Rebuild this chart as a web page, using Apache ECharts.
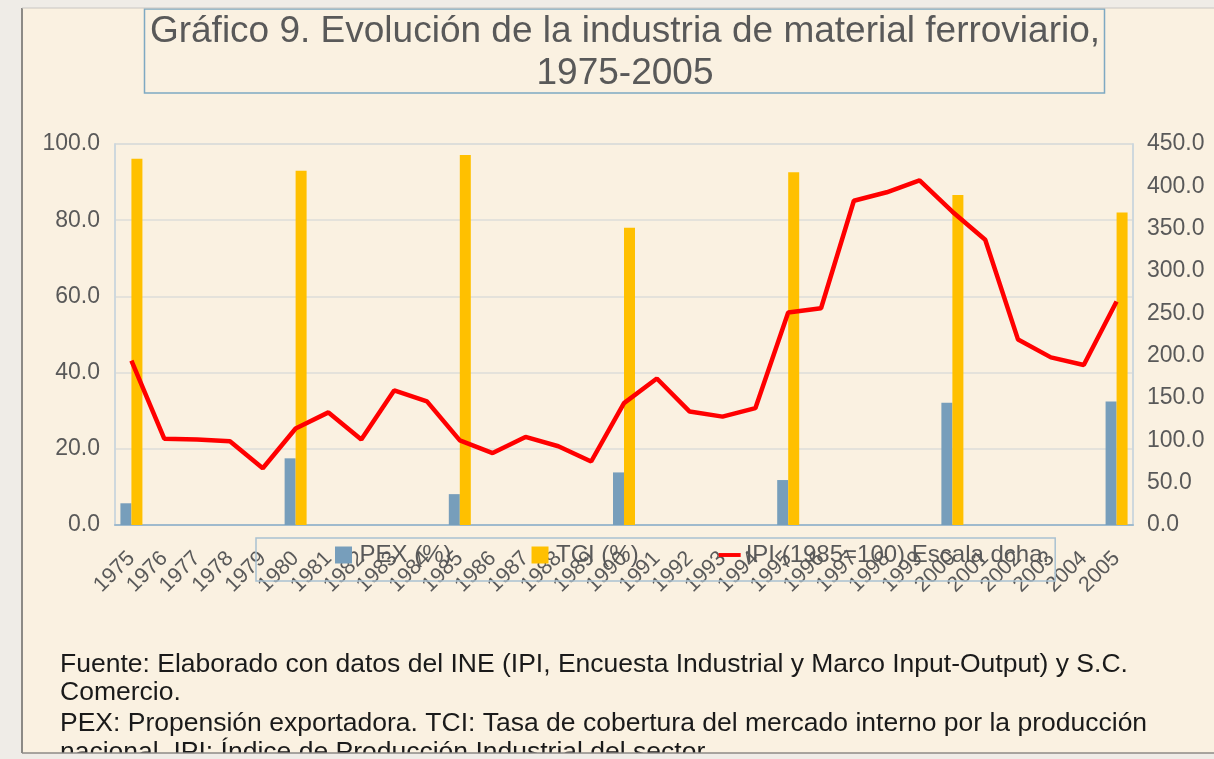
<!DOCTYPE html>
<html>
<head>
<meta charset="utf-8">
<style>
  html, body { margin: 0; padding: 0; background: #faf1e1; }
  #chart { width: 1214px; height: 759px; }
</style>
<script src="https://cdn.jsdelivr.net/npm/echarts@6/dist/echarts.min.js"></script>
</head>
<body>
<div id="chart"></div>
<script>
// años
var years = ['1975', '1976', '1977', '1978', '1979', '1980', '1981', '1982', '1983', '1984',
  '1985', '1986', '1987', '1988', '1989', '1990', '1991', '1992', '1993', '1994',
  '1995', '1996', '1997', '1998', '1999', '2000', '2001', '2002', '2003', '2004', '2005']

// PEX (%) - solo cada 5 años
var pex = [5.7, null, null, null, null, 17.5, null, null, null, null,
  8.1, null, null, null, null, 13.8, null, null, null, null,
  11.8, null, null, null, null, 32.1, null, null, null, null, 32.4]

// TCI (%)
var tci = [96.1, null, null, null, null, 93.0, null, null, null, null,
  97.1, null, null, null, null, 78.0, null, null, null, null,
  92.6, null, null, null, null, 86.6, null, null, null, null, 82.0]

// IPI (1985=100), escala derecha
var ipi = [194, 102, 101, 99, 67, 114, 133, 101, 159, 146,
  100, 85, 104, 93, 75, 144, 173, 134, 128, 138,
  251, 256, 383, 393, 407, 370, 337, 219, 198, 189, 264]

var leftTicks = [0, 20, 40, 60, 80, 100]
var rightTicks = [0, 50, 100, 150, 200, 250, 300, 350, 400, 450]

var FONT = '"Liberation Sans", Arial, sans-serif'
var GREY = '#595959'
var SQ = 'path://M0,0H10V10H0Z'
var BAR_LINE = 'path://M0,0H28V5H0Z'
var NOTE_FONT = '26.5px ' + FONT

var chart = echarts.init(document.getElementById('chart'))

chart.setOption({
  backgroundColor: '#faf1e1',
  textStyle: { fontFamily: FONT },
  animation: false,
  grid: {
    left: 115,
    right: 81,
    top: 144,
    bottom: 234,
    show: true,
    borderColor: '#d3dbe0',
    borderWidth: 1.5
  },
  legend: {
    left: 256,
    top: 538,
    padding: [5, 6, 14, 79],
    itemWidth: 22,
    itemHeight: 17,
    itemGap: 80,
    borderColor: '#a9c1d1',
    borderWidth: 1.5,
    textStyle: { fontSize: 24, color: GREY, fontFamily: FONT },
    data: [
      { name: 'PEX (%)', icon: SQ },
      { name: 'TCI (%)', icon: SQ },
      { name: 'IPI (1985=100) Escala dcha.', icon: BAR_LINE }
    ]
  },
  xAxis: {
    type: 'category',
    data: years,
    boundaryGap: true,
    axisLine: { lineStyle: { color: '#9fbacd', width: 2 } },
    axisTick: { show: false },
    axisLabel: {
      interval: 0,
      rotate: 45,
      margin: 30,
      fontSize: 21.5,
      color: GREY,
      fontFamily: FONT
    }
  },
  yAxis: [{
    type: 'value',
    min: leftTicks[0],
    max: leftTicks[leftTicks.length - 1],
    interval: 20,
    axisLine: { show: true, lineStyle: { color: '#c9d5dd', width: 1.5 } },
    axisTick: { show: false },
    axisLabel: {
      margin: 15,
      fontSize: 23,
      color: GREY,
      fontFamily: FONT,
      formatter: function (v) { return v.toFixed(1) }
    },
    splitLine: { lineStyle: { color: '#dcdcd8', width: 1.5 } }
  }, {
    type: 'value',
    min: rightTicks[0],
    max: rightTicks[rightTicks.length - 1],
    interval: 50,
    axisLine: { show: true, lineStyle: { color: '#c9d5dd', width: 1.5 } },
    axisTick: { show: false },
    axisLabel: {
      margin: 14,
      fontSize: 23,
      color: GREY,
      fontFamily: FONT,
      formatter: function (v) { return v.toFixed(1) }
    },
    splitLine: { show: false }
  }],
  series: [{
    name: 'PEX (%)',
    type: 'bar',
    data: pex,
    barWidth: 11,
    barGap: '0%',
    itemStyle: { color: '#779ebb' }
  }, {
    name: 'TCI (%)',
    type: 'bar',
    data: tci,
    barWidth: 11,
    barGap: '0%',
    itemStyle: { color: '#ffc000' }
  }, {
    name: 'IPI (1985=100) Escala dcha.',
    type: 'line',
    yAxisIndex: 1,
    data: ipi,
    symbol: 'none',
    z: 5,
    lineStyle: { color: '#ff0000', width: 4.5 },
    itemStyle: { color: '#ff0000' }
  }],
  graphic: [
    // caja del título
    {
      type: 'rect',
      shape: { x: 144.5, y: 9, width: 960, height: 84 },
      style: { fill: 'transparent', stroke: '#7ea9c2', lineWidth: 1.5 }
    },
    {
      type: 'text', x: 625, y: 32,
      style: { text: 'Gráfico 9. Evolución de la industria de material ferroviario,', fill: GREY,
        font: '37px ' + FONT, align: 'center', verticalAlign: 'middle' }
    },
    {
      type: 'text', x: 625, y: 74,
      style: { text: '1975-2005', fill: GREY, font: '37px ' + FONT, align: 'center', verticalAlign: 'middle' }
    },
    // notas
    {
      type: 'text', x: 60, y: 665,
      style: { text: 'Fuente: Elaborado con datos del INE (IPI, Encuesta Industrial y Marco Input-Output) y S.C.',
        fill: '#1a1a1a', font: NOTE_FONT, verticalAlign: 'middle' }
    },
    {
      type: 'text', x: 60, y: 693,
      style: { text: 'Comercio.', fill: '#1a1a1a', font: NOTE_FONT, verticalAlign: 'middle' }
    },
    {
      type: 'text', x: 60, y: 724,
      style: { text: 'PEX: Propensión exportadora. TCI: Tasa de cobertura del mercado interno por la producción',
        fill: '#1a1a1a', font: NOTE_FONT, verticalAlign: 'middle' }
    },
    {
      type: 'text', x: 60, y: 753,
      style: { text: 'nacional. IPI: Índice de Producción Industrial del sector.',
        fill: '#1a1a1a', font: NOTE_FONT, verticalAlign: 'middle' }
    },
    // marco gris de la página
    {
      type: 'rect', z: 100,
      shape: { x: 0, y: 0, width: 1214, height: 8 },
      style: { fill: '#efece7' }
    },
    {
      type: 'rect', z: 100,
      shape: { x: 0, y: 753, width: 1214, height: 6 },
      style: { fill: '#efece7' }
    },
    {
      type: 'rect', z: 100,
      shape: { x: 0, y: 0, width: 21, height: 759 },
      style: { fill: '#efece7' }
    },
    {
      type: 'line', z: 101,
      shape: { x1: 22, y1: 8, x2: 22, y2: 753 },
      style: { stroke: '#8c8a86', lineWidth: 2 }
    },
    {
      type: 'line', z: 101,
      shape: { x1: 22, y1: 8, x2: 1214, y2: 8 },
      style: { stroke: '#c8c6c2', lineWidth: 1 }
    },
    {
      type: 'line', z: 101,
      shape: { x1: 22, y1: 753, x2: 1214, y2: 753 },
      style: { stroke: '#8c8a86', lineWidth: 1.5 }
    }
  ]
})
</script>
</body>
</html>
